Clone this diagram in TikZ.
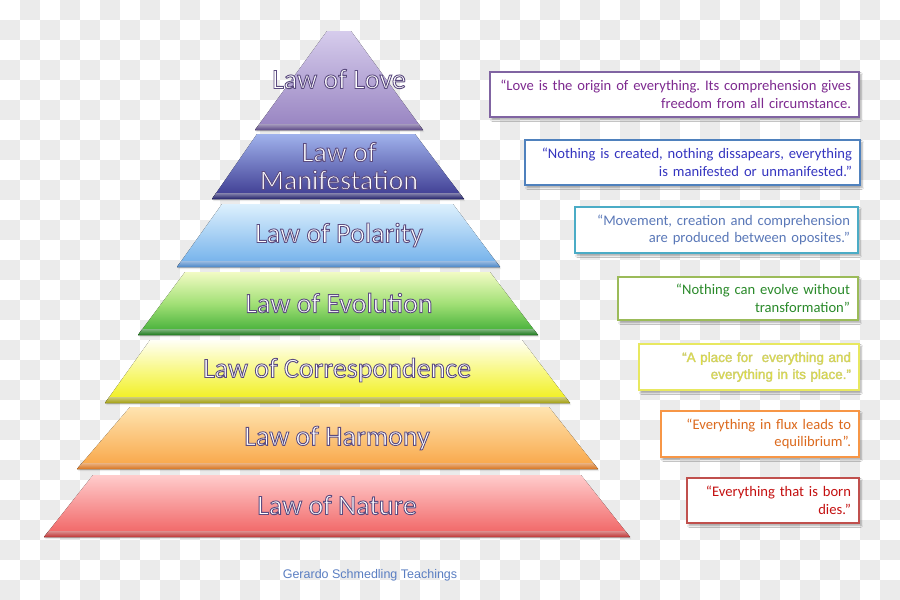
\documentclass[tikz,border=0pt]{standalone}
\usepackage{fontspec}
\setmainfont{Carlito}
\newfontfamily\arialfont{Liberation Sans}
\usetikzlibrary{shadows,shadows.blur}
\frenchspacing

\definecolor{chk}{HTML}{EBEBEB}
% tier colours
\definecolor{loveT}{HTML}{D6CCEC}\definecolor{loveB}{HTML}{9682C0}\definecolor{loveD}{HTML}{5C4987}
\definecolor{manT}{HTML}{A0B2EC}\definecolor{manB}{HTML}{3A378E}\definecolor{manD}{HTML}{22206A}
\definecolor{polT}{HTML}{DDF0FD}\definecolor{polB}{HTML}{6EAEEA}\definecolor{polD}{HTML}{4A86C8}
\definecolor{evoT}{HTML}{F2FBC4}\definecolor{evoM}{HTML}{A2E076}\definecolor{evoB}{HTML}{3AAA32}\definecolor{evoD}{HTML}{1C7A1C}
\definecolor{corT}{HTML}{FFFFF6}\definecolor{corM}{HTML}{F8F880}\definecolor{corB}{HTML}{F0EE14}\definecolor{corD}{HTML}{A4A010}
\definecolor{harT}{HTML}{FFE4B0}\definecolor{harB}{HTML}{F8A444}\definecolor{harD}{HTML}{D8741E}
\definecolor{natT}{HTML}{FFCCCC}\definecolor{natB}{HTML}{F06060}\definecolor{natD}{HTML}{BF3434}
% quote box colours
\definecolor{q1b}{HTML}{8064A2}\definecolor{q1t}{HTML}{7E2A90}
\definecolor{q2b}{HTML}{4F81BD}\definecolor{q2t}{HTML}{3535C0}
\definecolor{q3b}{HTML}{4BACC6}\definecolor{q3t}{HTML}{5A78B8}
\definecolor{q4b}{HTML}{9BBB59}\definecolor{q4t}{HTML}{2A8A2A}
\definecolor{q5b}{HTML}{E8E860}\definecolor{q5t}{HTML}{E4E430}
\definecolor{q6b}{HTML}{F79646}\definecolor{q6t}{HTML}{DC6A1E}
\definecolor{q7b}{HTML}{C0504D}\definecolor{q7t}{HTML}{C41010}
\definecolor{foot}{HTML}{5A7EC2}

% outlined text via PDF text render mode (fill + stroke)
% #1 line width (bp), #2 stroke rgb, #3 text
\newcommand\outl[3]{\special{pdf:literal direct 2 Tr #1 w #2 RG}#3\special{pdf:literal direct 0 Tr}}
\newcommand\lbltxt[1]{\outl{0.9}{0.36 0.30 0.50}{#1}}

% #1 tl x, #2 tr x, #3 top y, #4 bl x, #5 br x, #6 bottom y, #7 fill style, #8 band colour
\newcommand\tierdraw[8]{%
  \pgfmathsetmacro\tfr{6/(#6-#3)}%
  \pgfmathsetmacro\tlx{#4+(#1-#4)*\tfr}%
  \pgfmathsetmacro\trx{#5+(#2-#5)*\tfr}%
  \pgfmathsetmacro\tby{#6-6}%
  \fill[#7, drop shadow={shadow xshift=1pt, shadow yshift=-2pt, opacity=0.18}]
    (#1,#3) -- (#2,#3) -- (#5,#6) -- (#4,#6) -- cycle;
  \fill[top color=#8!55!white, bottom color=#8] (\tlx,\tby) -- (\trx,\tby) -- (#5,#6) -- (#4,#6) -- cycle;
}

\tikzset{
  lovefill/.style={top color=loveT, bottom color=loveB},
  manfill/.style={top color=manT, bottom color=manB},
  polfill/.style={top color=polT, bottom color=polB},
  evofill/.style={top color=evoT, bottom color=evoB, middle color=evoM},
  corfill/.style={top color=corT, bottom color=corB, middle color=corM},
  harfill/.style={top color=harT, bottom color=harB},
  natfill/.style={top color=natT, bottom color=natB},
  lbl/.style={text=white, font=\fontsize{28}{28}\selectfont, align=center, inner sep=0pt},
  qbox/.style={draw=#1, line width=2pt, fill=white, align=right, inner xsep=8pt, inner ysep=2pt,
    font=\fontsize{14.6}{17.5}\selectfont,
    blur shadow={shadow xshift=2pt, shadow yshift=-2.5pt, shadow opacity=35, shadow blur steps=5}},
}

\begin{document}
\begin{tikzpicture}[x=1pt, y=-1pt]
\useasboundingbox (0,0) rectangle (900,600);
% checkerboard background
\fill[white] (0,0) rectangle (900,600);
\foreach \i in {0,...,44}{
  \foreach \j in {0,...,29}{
    \pgfmathtruncatemacro\cpar{mod(\i+\j,2)}
    \ifnum\cpar=1 \fill[chk] (\i*20,\j*20) rectangle ++(20,20); \fi
  }
}

% pyramid tiers
\tierdraw{327}{351}{31}{255}{423}{130}{lovefill}{loveD}
\tierdraw{257}{415}{134}{212}{464}{199}{manfill}{manD}
\tierdraw{222}{453}{204}{177}{500}{267}{polfill}{polD}
\tierdraw{185}{490}{272}{138}{538}{335}{evofill}{evoD}
\tierdraw{150}{522}{340}{105}{570}{403}{corfill}{corD}
\tierdraw{130}{549}{407}{77}{598}{469}{harfill}{harD}
\tierdraw{93}{581}{475}{44}{630}{537}{natfill}{natD}

% tier labels
\node[lbl] (lLove) at (339,79) {\lbltxt{Law of Love}};
\node[lbl] (lMan) at (339,166) {\lbltxt{Law of}\\\lbltxt{Manifestation}};
\node[lbl] (lPol) at (339,235) {\lbltxt{Law of Polarity}};
\node[lbl] (lEvo) at (339,303) {\lbltxt{Law of Evolution}};
\node[lbl] (lCor) at (337,370) {\lbltxt{Law of Correspondence}};
\node[lbl] (lHar) at (337,438) {\lbltxt{Law of Harmony}};
\node[lbl] (lNat) at (337,505) {\lbltxt{Law of Nature}};

% quote boxes
\node[qbox=q1b, text=q1t, minimum width=369pt, minimum height=45pt, text width=353pt] (q1) at (674.5,94.5)
  {“Love is the origin of everything. Its comprehension gives\\freedom from all circumstance.};
\node[qbox=q2b, text=q2t, minimum width=335pt, minimum height=45pt, text width=319pt] (q2) at (692.5,162.5)
  {“Nothing is created, nothing dissapears, everything\\is manifested or unmanifested.”};
\node[qbox=q3b, text=q3t, minimum width=283pt, minimum height=46pt, text width=267pt] (q3) at (716.5,230)
  {“Movement, creation and comprehension\\are produced between oposites.”};
\node[qbox=q4b, text=q4t, minimum width=240pt, minimum height=43pt, text width=224pt] (q4) at (738,298.5)
  {“Nothing can evolve without\\transformation”};
\node[qbox=q5b, text=q5t, minimum width=220pt, minimum height=46pt, text width=204pt,
      font=\arialfont\fontsize{13.5}{17}\selectfont] (q5) at (749,367)
  {\outl{0.3}{0.78 0.78 0.50}{“A place for \ everything and}\\\outl{0.3}{0.78 0.78 0.50}{everything in its place.”}};
\node[qbox=q6b, text=q6t, minimum width=198pt, minimum height=46pt, text width=182pt] (q6) at (760,434)
  {“Everything in flux leads to\\equilibrium”.};
\node[qbox=q7b, text=q7t, minimum width=172pt, minimum height=45pt, text width=156pt] (q7) at (773,500.5)
  {“Everything that is born\\dies.”};

% footer
\node[text=foot, font=\arialfont\fontsize{12.5}{14}\selectfont] (foot) at (370,575) {Gerardo Schmedling Teachings};
\end{tikzpicture}
\end{document}
